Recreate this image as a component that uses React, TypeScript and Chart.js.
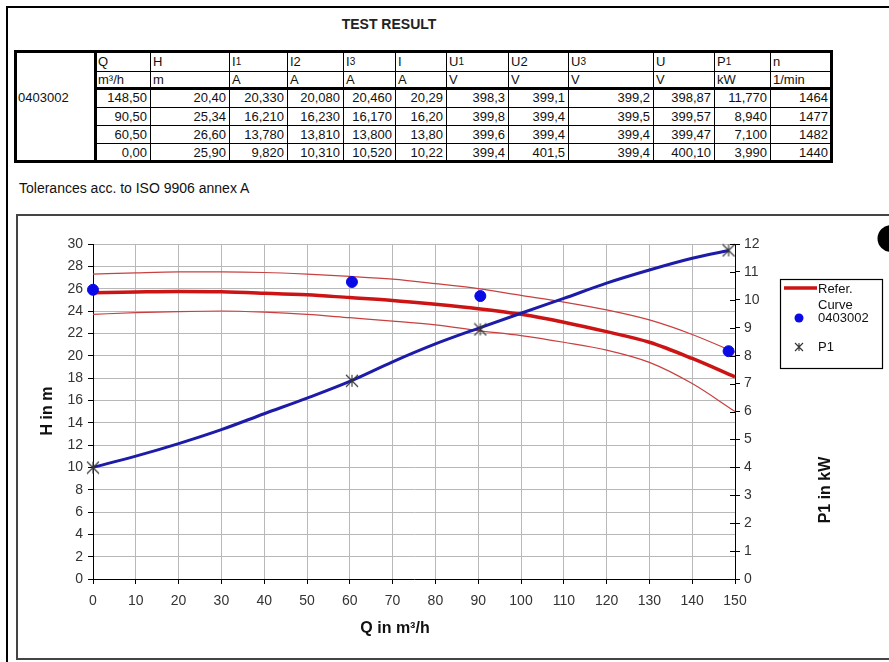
import React, { useEffect, useRef } from "react";
import { Chart, registerables } from "chart.js";
Chart.register(...registerables);

const FONT = "'Liberation Sans', Arial, Helvetica, sans-serif";

// ---- table data ----
const sampleId = "0403002";
const colHeads = ["Q", "H", "I|1", "I2", "I|3", "I", "U|1", "U2", "U|3", "U", "P|1", "n"];
const colUnits = ["m³/h", "m", "A", "A", "A", "A", "V", "V", "V", "V", "kW", "1/min"];
const tableQ = [148.5, 90.5, 60.5, 0.0];
const tableH = [20.4, 25.34, 26.6, 25.9];
const tableI1 = [20.33, 16.21, 13.78, 9.82];
const tableI2 = [20.08, 16.23, 13.81, 10.31];
const tableI3 = [20.46, 16.17, 13.8, 10.52];
const tableI = [20.29, 16.2, 13.8, 10.22];
const tableU1 = [398.3, 399.8, 399.6, 399.4];
const tableU2 = [399.1, 399.4, 399.4, 401.5];
const tableU3 = [399.2, 399.5, 399.4, 399.4];
const tableU = [398.87, 399.57, 399.47, 400.1];
const tableP1 = [11.77, 8.94, 7.1, 3.99];
const tableN = [1464, 1477, 1482, 1440];
const tableDecimals = [2, 2, 3, 3, 3, 2, 1, 1, 1, 2, 3, 0];

// ---- chart data ----
const refQ = [0, 10, 20, 30, 40, 50, 60, 70, 80, 90, 100, 110, 120, 130, 140, 150];
const refH = [25.63, 25.7, 25.75, 25.72, 25.6, 25.45, 25.2, 24.95, 24.6, 24.2, 23.7, 23.0, 22.15, 21.2, 19.75, 18.1];
const upperTolH = [27.3, 27.42, 27.5, 27.5, 27.45, 27.3, 27.1, 26.85, 26.45, 26.0, 25.4, 24.8, 24.1, 23.2, 21.9, 20.3];
const lowerTolH = [23.7, 23.85, 23.95, 24.0, 23.9, 23.7, 23.4, 23.1, 22.75, 22.25, 21.8, 21.2, 20.5, 19.4, 17.5, 15.0];
const p1CurveQ = [0, 10, 20, 30, 40, 50, 60, 70, 80, 90, 100, 110, 120, 130, 140, 148.5];
const p1CurveKW = [4.0, 4.4, 4.85, 5.35, 5.92, 6.48, 7.08, 7.78, 8.42, 8.98, 9.52, 10.05, 10.6, 11.07, 11.49, 11.77];
const xTickStep = 10;
const hTickStep = 2;
const pTickStep = 1;
const legendLabels = ["Refer.", "Curve", sampleId, "P1"];
const xTitle = "Q in m³/h";
const hTitle = "H in m";
const pTitle = "P1 in kW";

const tableCols = [tableQ, tableH, tableI1, tableI2, tableI3, tableI, tableU1, tableU2, tableU3, tableU, tableP1, tableN];

// ---- layout ----
const colX = [16, 95, 150, 229, 287, 343, 395, 446, 508, 568, 653, 714, 770, 831];
const rowY = [52, 71, 88, 107, 125, 143, 161];
const AREA = { left: 93, top: 244, right: 735, bottom: 579 };
const W = 889;
const H = 662;

function fmt(v: number, d: number) {
  return v.toFixed(d).replace(".", ",");
}

function makeStar(size: number) {
  const c = document.createElement("canvas");
  c.width = size;
  c.height = size;
  const g = c.getContext("2d")!;
  g.strokeStyle = "#333";
  g.lineWidth = 1.1;
  g.beginPath();
  g.moveTo(1, 1);
  g.lineTo(size - 1, size - 1);
  g.moveTo(size - 1, 1);
  g.lineTo(1, size - 1);
  g.moveTo(size / 2, 1);
  g.lineTo(size / 2, size - 1);
  g.stroke();
  return c;
}

function Head({ text }: { text: string }) {
  const parts = text.split("|");
  if (parts.length === 1) return <>{text}</>;
  return (
    <>
      {parts[0]}
      <span style={{ fontSize: 10 }}>{parts[1]}</span>
    </>
  );
}

function Table() {
  const cells: any[] = [];
  const lines: any[] = [];
  const L = colX[0];
  const T = rowY[0];
  const Wt = colX[colX.length - 1] - L;
  const Ht = rowY[rowY.length - 1] - T;
  for (let i = 1; i < colX.length - 1; i++) {
    const w = i === 1 ? 3 : 1;
    lines.push(
      <div key={"v" + i} style={{ position: "absolute", left: colX[i] - L - Math.floor(w / 2), top: 0, width: w, height: Ht, background: "#000" }} />
    );
  }
  for (let r = 1; r < rowY.length - 1; r++) {
    const h = r === 2 ? 3 : 1;
    lines.push(
      <div key={"h" + r} style={{ position: "absolute", left: colX[1] - L, top: rowY[r] - T - Math.floor(h / 2), width: Wt - (colX[1] - L), height: h, background: "#000" }} />
    );
  }
  const base: any = { position: "absolute", fontFamily: FONT, fontSize: 13, color: "#111", whiteSpace: "nowrap", lineHeight: "1", display: "flex", alignItems: "center" };
  colHeads.forEach((h, i) => {
    cells.push(
      <div key={"hd" + i} style={{ ...base, left: colX[i + 1] - L + 3, top: rowY[0] - T, height: rowY[1] - rowY[0], width: colX[i + 2] - colX[i + 1] - 4 }}>
        <Head text={h} />
      </div>
    );
    cells.push(
      <div key={"un" + i} style={{ ...base, left: colX[i + 1] - L + 3, top: rowY[1] - T, height: rowY[2] - rowY[1], width: colX[i + 2] - colX[i + 1] - 4 }}>
        {colUnits[i]}
      </div>
    );
    tableCols[i].forEach((v, r) => {
      cells.push(
        <div key={"d" + i + "_" + r} style={{ ...base, justifyContent: "flex-end", left: colX[i + 1] - L, top: rowY[r + 2] - T, height: rowY[r + 3] - rowY[r + 2], width: colX[i + 2] - colX[i + 1] - 3 }}>
          {fmt(v, tableDecimals[i])}
        </div>
      );
    });
  });
  cells.push(
    <div key="id" style={{ ...base, left: 2, top: rowY[2] - T, height: rowY[3] - rowY[2] }}>
      {sampleId}
    </div>
  );
  return (
    <div style={{ position: "absolute", left: L - 2, top: T - 2, width: Wt + 4, height: Ht + 4, boxSizing: "border-box", border: "3px solid #000" }}>
      <div style={{ position: "absolute", left: -1, top: -1, width: Wt, height: Ht }}>
        {lines}
        {cells}
      </div>
    </div>
  );
}

export default function App() {
  const ref = useRef<HTMLCanvasElement | null>(null);
  useEffect(() => {
    const star = makeStar(14);
    const legendStar = makeStar(10);
    const pts = (xs: number[], ys: number[]) => xs.map((x, i) => ({ x, y: ys[i] }));
    const extras = {
      id: "extras",
      afterDraw(chart: any) {
        const ctx = chart.ctx;
        const y2 = chart.scales.y2;
        const ca = chart.chartArea;
        ctx.save();
        ctx.strokeStyle = "#000";
        ctx.lineWidth = 1;
        for (let v = 0; v <= 12; v += pTickStep) {
          const py = Math.round(y2.getPixelForValue(v)) + 0.5;
          ctx.beginPath();
          ctx.moveTo(ca.right - 5, py);
          ctx.lineTo(ca.right, py);
          ctx.stroke();
        }
        ctx.fillStyle = "#111";
        ctx.font = `bold 16px ${FONT}`;
        ctx.textAlign = "center";
        ctx.textBaseline = "middle";
        ctx.fillText(xTitle, 395, 629);
        ctx.save();
        ctx.translate(48, 411);
        ctx.rotate(-Math.PI / 2);
        ctx.fillText(hTitle, 0, 0);
        ctx.restore();
        ctx.save();
        ctx.translate(826, 490);
        ctx.rotate(-Math.PI / 2);
        ctx.fillText(pTitle, 0, 0);
        ctx.restore();
        // legend
        ctx.strokeStyle = "#000";
        ctx.lineWidth = 1.2;
        ctx.strokeRect(780.5, 279.5, 102, 89);
        ctx.strokeStyle = "#cc1414";
        ctx.lineWidth = 3.5;
        ctx.beginPath();
        ctx.moveTo(784, 288);
        ctx.lineTo(817, 288);
        ctx.stroke();
        ctx.fillStyle = "#0a0ae6";
        ctx.beginPath();
        ctx.arc(799, 318, 4.5, 0, Math.PI * 2);
        ctx.fill();
        ctx.drawImage(legendStar, 794, 342);
        ctx.fillStyle = "#111";
        ctx.font = `13px ${FONT}`;
        ctx.textAlign = "left";
        ctx.fillText(legendLabels[0], 818, 289);
        ctx.fillText(legendLabels[1], 818, 305);
        ctx.fillText(legendLabels[2], 818, 318);
        ctx.fillText(legendLabels[3], 818, 347);
        ctx.fillStyle = "#000";
        ctx.beginPath();
        ctx.arc(891, 238.5, 13.5, 0, Math.PI * 2);
        ctx.fill();
        ctx.restore();
      },
    };
    const tickFont = { size: 14, family: FONT };
    const chart = new Chart(ref.current!, {
      type: "scatter",
      data: {
        datasets: [
          {
            label: "0403002",
            data: pts(tableQ, tableH),
            showLine: false,
            pointRadius: 5.5,
            pointBackgroundColor: "#0a0ae6",
            pointBorderColor: "#0a0ae6",
            yAxisID: "y",
            clip: false,
          },
          {
            label: "P1",
            data: pts(tableQ, tableP1),
            showLine: false,
            pointStyle: star as any,
            yAxisID: "y2",
            clip: false,
          },
          {
            label: "P1 curve",
            data: pts(p1CurveQ, p1CurveKW),
            showLine: true,
            borderColor: "#1c1ca8",
            borderWidth: 3,
            pointRadius: 0,
            cubicInterpolationMode: "monotone",
            yAxisID: "y2",
            clip: false,
          },
          {
            label: "Refer. Curve",
            data: pts(refQ, refH),
            showLine: true,
            borderColor: "#cc1414",
            borderWidth: 3.5,
            pointRadius: 0,
            cubicInterpolationMode: "monotone",
            yAxisID: "y",
            clip: false,
          },
          {
            label: "upper",
            data: pts(refQ, upperTolH),
            showLine: true,
            borderColor: "#c84040",
            borderWidth: 1.2,
            pointRadius: 0,
            cubicInterpolationMode: "monotone",
            yAxisID: "y",
            clip: false,
          },
          {
            label: "lower",
            data: pts(refQ, lowerTolH),
            showLine: true,
            borderColor: "#c84040",
            borderWidth: 1.2,
            pointRadius: 0,
            cubicInterpolationMode: "monotone",
            yAxisID: "y",
            clip: false,
          },
        ],
      },
      options: {
        responsive: false,
        animation: false,
        devicePixelRatio: 1,
        layout: { padding: { left: 0, top: AREA.top, right: 0, bottom: 0 } },
        plugins: { legend: { display: false }, tooltip: { enabled: false } },
        scales: {
          x: {
            type: "linear",
            position: "bottom",
            min: 0,
            max: 150,
            ticks: { stepSize: xTickStep, font: tickFont, color: "#333", padding: 9, maxRotation: 0, autoSkip: false },
            grid: { color: "#b8b8b8", tickColor: "#000", tickLength: 5 },
            border: { color: "#000", width: 1 },
            afterFit: (s: any) => {
              s.height = H - AREA.bottom;
            },
          },
          y: {
            type: "linear",
            position: "left",
            min: 0,
            max: 30,
            ticks: { stepSize: hTickStep, font: tickFont, color: "#333", padding: 5 },
            grid: { color: "#b8b8b8", tickColor: "#000", tickLength: 5 },
            border: { color: "#000", width: 1 },
            afterFit: (s: any) => {
              s.width = AREA.left;
            },
          },
          y2: {
            type: "linear",
            position: "right",
            min: 0,
            max: 12,
            ticks: { stepSize: pTickStep, font: tickFont, color: "#333", padding: 4 },
            grid: { drawOnChartArea: false, tickColor: "#000", tickLength: 5 },
            border: { color: "#000", width: 1 },
            afterFit: (s: any) => {
              s.width = W - AREA.right;
            },
          },
        },
      } as any,
      plugins: [extras],
    });
    const ca = chart.chartArea;
    const pad = (chart.options as any).layout.padding;
    const dTop = AREA.top - ca.top;
    const dBottom = ca.bottom - AREA.bottom;
    const dLeft = AREA.left - ca.left;
    const dRight = ca.right - AREA.right;
    if (dTop || dBottom || dLeft || dRight) {
      pad.top += dTop;
      pad.bottom += dBottom;
      pad.left += dLeft;
      pad.right += dRight;
      chart.update();
    }
    return () => chart.destroy();
  }, []);

  return (
    <div style={{ position: "absolute", left: 0, top: 0, width: W, height: H, overflow: "hidden", background: "#fff" }}>
      <div style={{ position: "absolute", left: 6, top: 6, width: W, height: 2, background: "#000" }} />
      <div style={{ position: "absolute", left: 6, top: 6, width: 2, height: H, background: "#000" }} />
      <div style={{ position: "absolute", left: 0, top: 17, width: 778, textAlign: "center", fontFamily: FONT, fontWeight: "bold", fontSize: 14, color: "#222", lineHeight: "14px" }}>
        TEST RESULT
      </div>
      <Table />
      <div style={{ position: "absolute", left: 19, top: 180, fontFamily: FONT, fontSize: 14, color: "#111", lineHeight: "16px" }}>
        Tolerances acc. to ISO 9906 annex A
      </div>
      <div style={{ position: "absolute", left: 16, top: 214, width: W, height: 446, boxSizing: "border-box", border: "2px solid #444" }} />
      <canvas ref={ref} width={W} height={H} style={{ position: "absolute", left: 0, top: 0, width: W, height: H }} />
    </div>
  );
}
